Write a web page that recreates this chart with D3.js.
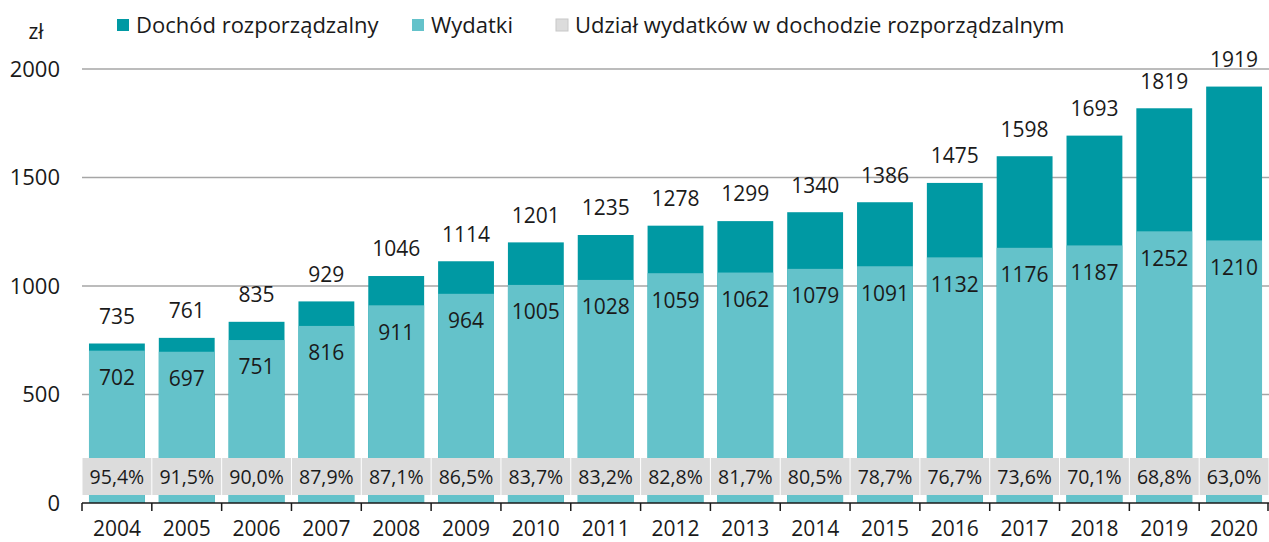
<!DOCTYPE html>
<html>
<head>
<meta charset="utf-8">
<script src="https://cdn.jsdelivr.net/npm/d3@7"></script>
<style>
body { margin: 0; background: #fff; }
text { font-family: "Open Sans", "Noto Sans", sans-serif; fill: #1a1a1a; }
</style>
</head>
<body>
<div id="chart"></div>
<script>
var width = 1269;
var height = 542;

var years = ["2004","2005","2006","2007","2008","2009","2010","2011","2012","2013","2014","2015","2016","2017","2018","2019","2020"];
var income = [735, 761, 835, 929, 1046, 1114, 1201, 1235, 1278, 1299, 1340, 1386, 1475, 1598, 1693, 1819, 1919];
var spending = [702, 697, 751, 816, 911, 964, 1005, 1028, 1059, 1062, 1079, 1091, 1132, 1176, 1187, 1252, 1210];
var shares = ["95,4%","91,5%","90,0%","87,9%","87,1%","86,5%","83,7%","83,2%","82,8%","81,7%","80,5%","78,7%","76,7%","73,6%","70,1%","68,8%","63,0%"];
var yTicks = [0, 500, 1000, 1500, 2000];

var DARK = "#0099a3";
var LIGHT = "#64c2ca";
var GRAY = "#dcdcdc";

var svg = d3.select("#chart").append("svg")
    .attr("width", width)
    .attr("height", height);

var scaleX = d3.scaleBand().domain(years).range([82, 1269]).paddingInner(0.2).paddingOuter(0.1);
var scaleY = d3.scaleLinear().domain([0, 2000]).range([503, 69]);

// gridlines
svg.selectAll("line.grid").data(yTicks.filter(function(d) { return d > 0; }))
    .enter().append("line")
    .attr("x1", 82).attr("x2", 1269)
    .attr("y1", function(d) { return scaleY(d); })
    .attr("y2", function(d) { return scaleY(d); })
    .style("stroke", "#a6a6a6")
    .style("stroke-width", 1.5);

// y labels
svg.selectAll("text.ylab").data(yTicks)
    .enter().append("text")
    .attr("x", 60)
    .attr("y", function(d) { return scaleY(d); })
    .attr("dy", "0.35em")
    .attr("text-anchor", "end")
    .style("font-size", "22px")
    .text(function(d) { return d; });

svg.append("text").attr("x", 36).attr("y", 32).attr("dy", "0.35em")
    .attr("text-anchor", "middle").style("font-size", "21px").text("zł");

// bars
var g = svg.selectAll("g.year").data(years).enter().append("g").attr("class", "year");

g.append("rect")
    .attr("x", function(d) { return scaleX(d); })
    .attr("width", scaleX.bandwidth())
    .attr("y", function(d, i) { return scaleY(income[i]); })
    .attr("height", function(d, i) { return scaleY(0) - scaleY(income[i]); })
    .style("fill", DARK);

g.append("rect")
    .attr("x", function(d) { return scaleX(d); })
    .attr("width", scaleX.bandwidth())
    .attr("y", function(d, i) { return scaleY(spending[i]); })
    .attr("height", function(d, i) { return scaleY(0) - scaleY(spending[i]); })
    .style("fill", LIGHT);

var step = scaleX.step();

// share boxes
g.append("rect")
    .attr("x", function(d) { return scaleX(d) - step * 0.1 + 0.5; })
    .attr("width", step - 1)
    .attr("y", 458)
    .attr("height", 37)
    .style("fill", GRAY);

g.append("text")
    .attr("x", function(d) { return scaleX(d) + scaleX.bandwidth() / 2; })
    .attr("y", 477)
    .attr("dy", "0.35em")
    .attr("text-anchor", "middle")
    .style("font-size", "19.5px")
    .text(function(d, i) { return shares[i]; });

// totals
g.append("text")
    .attr("x", function(d) { return scaleX(d) + scaleX.bandwidth() / 2; })
    .attr("y", function(d, i) { return scaleY(income[i]) - 27; })
    .attr("dy", "0.35em")
    .attr("text-anchor", "middle")
    .style("font-size", "21px")
    .text(function(d, i) { return income[i]; });

// spending values
g.append("text")
    .attr("x", function(d) { return scaleX(d) + scaleX.bandwidth() / 2; })
    .attr("y", function(d, i) { return scaleY(spending[i]) + 27; })
    .attr("dy", "0.35em")
    .attr("text-anchor", "middle")
    .style("font-size", "21px")
    .text(function(d, i) { return spending[i]; });

// x axis
svg.append("line").attr("x1", 82).attr("x2", 1269).attr("y1", 503).attr("y2", 503)
    .style("stroke", "#1a1a1a").style("stroke-width", 1.5);

var bounds = d3.range(years.length + 1).map(function(i) { return 82 + i * step; });
svg.selectAll("line.tick").data(bounds).enter().append("line")
    .attr("x1", function(d) { return Math.min(d, 1268); })
    .attr("x2", function(d) { return Math.min(d, 1268); })
    .attr("y1", 503).attr("y2", 511)
    .style("stroke", "#1a1a1a").style("stroke-width", 1.5);

svg.selectAll("text.xlab").data(years).enter().append("text")
    .attr("x", function(d) { return scaleX(d) + scaleX.bandwidth() / 2; })
    .attr("y", 529)
    .attr("dy", "0.35em")
    .attr("text-anchor", "middle")
    .style("font-size", "21px")
    .text(function(d) { return d; });

// legend
var legend = [
    { label: "Dochód rozporządzalny", color: DARK, x: 117 },
    { label: "Wydatki", color: LIGHT, x: 412 },
    { label: "Udział wydatków w dochodzie rozporządzalnym", color: GRAY, x: 556 }
];
var lg = svg.selectAll("g.legend").data(legend).enter().append("g").attr("class", "legend");
lg.append("rect")
    .attr("x", function(d) { return d.x; })
    .attr("y", 19)
    .attr("width", 12).attr("height", 12)
    .style("fill", function(d) { return d.color; })
    .style("stroke", function(d) { return d.color === GRAY ? "#c8c8c8" : "none"; });
lg.append("text")
    .attr("x", function(d) { return d.x + 19; })
    .attr("y", 25)
    .attr("dy", "0.35em")
    .style("font-size", "22px")
    .text(function(d) { return d.label; });
</script>
</body>
</html>
